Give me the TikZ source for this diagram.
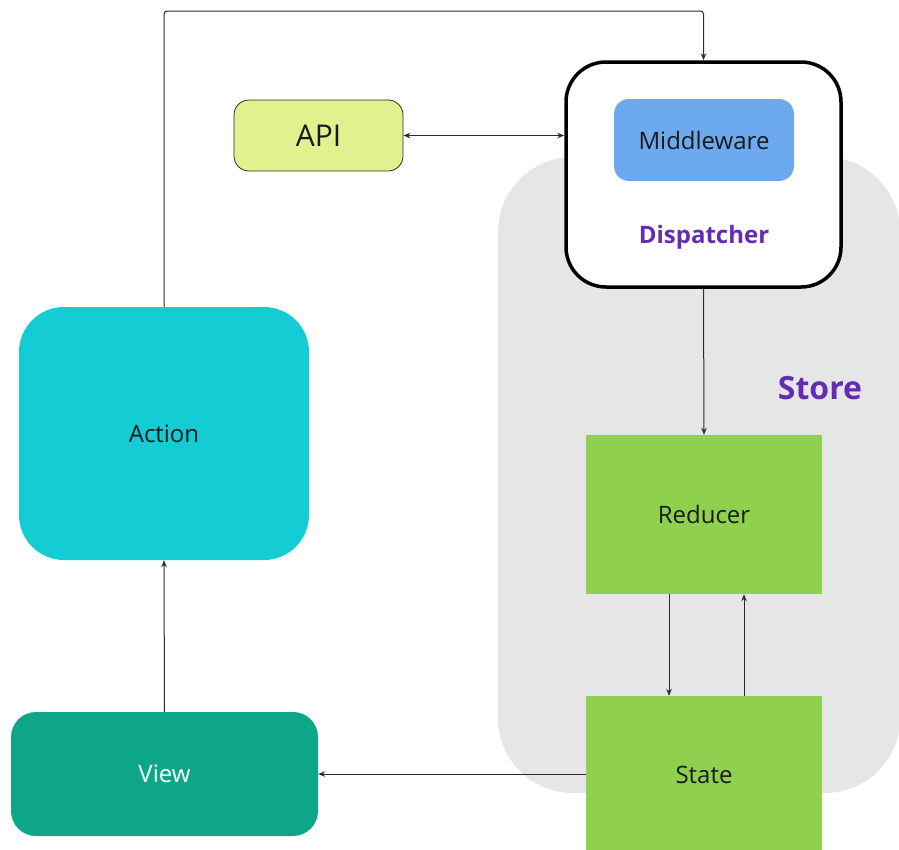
\documentclass[tikz,border=0pt]{standalone}
\usepackage{fontspec}
\setmainfont{Open Sans}
\usetikzlibrary{arrows.meta,calc}
\definecolor{storegray}{HTML}{E6E6E6}
\definecolor{purpletxt}{HTML}{652CB3}
\definecolor{mwblue}{HTML}{6DA9EE}
\definecolor{apiyellow}{HTML}{E2F08E}
\definecolor{actcyan}{HTML}{14CCD4}
\definecolor{viewteal}{HTML}{0EA688}
\definecolor{redgreen}{HTML}{8FD14F}
\definecolor{linegray}{HTML}{2B2B2B}
\definecolor{inktxt}{HTML}{1A1A1A}
\tikzset{
  box/.style={rectangle, inner sep=0pt, font=\fontsize{24}{28}\selectfont, text=inktxt},
  arr/.style={draw=linegray, line width=1pt, -{Stealth[length=7pt,width=5.5pt]}},
  biarr/.style={draw=linegray, line width=1pt, {Stealth[length=7pt,width=5.5pt]}-{Stealth[length=7pt,width=5.5pt]}},
}
\begin{document}
\begin{tikzpicture}[x=1pt,y=-1pt]
\useasboundingbox (0,0) rectangle (899,849);
\clip (0,0) rectangle (899,849);
\fill[white] (0,0) rectangle (899,849);

% Store container
\fill[storegray, rounded corners=75pt] (498,157) rectangle (900,793);
\node[font=\bfseries\fontsize{32}{36}\selectfont, text=purpletxt] (storelbl) at (820,388) {Store};

% Dispatcher with its middleware
\node[box, draw=black, line width=3.5pt, fill=white, rounded corners=40pt,
      minimum width=275pt, minimum height=225pt] (dispatcher) at (703.5,174.5) {};
\node[box, fill=mwblue, rounded corners=15pt, minimum width=180pt, minimum height=82pt]
      (middleware) at (704,140) {Middleware};
\node[font=\bfseries\fontsize{24}{28}\selectfont, text=purpletxt] (displbl) at (704,237) {Dispatcher};

% API
\node[box, draw=linegray, line width=0.8pt, fill=apiyellow, rounded corners=15pt,
      minimum width=169pt, minimum height=71pt, font=\fontsize{30}{34}\selectfont]
      (api) at (318.5,135.5) {API};

% Action and View
\node[box, fill=actcyan, rounded corners=45pt, minimum width=290pt, minimum height=253pt]
      (action) at (164,433.5) {Action};
\node[box, fill=viewteal, rounded corners=25pt, minimum width=307pt, minimum height=124pt, text=white]
      (view) at (164.5,774) {View};

% Reducer and State
\node[box, fill=redgreen, minimum width=236pt, minimum height=159pt] (reducer) at (704,514.5) {Reducer};
\node[box, fill=redgreen, minimum width=236pt, minimum height=157pt] (state) at (704,774.5) {State};

% Connectors
\coordinate (tl) at (action.north |- 0,11);
\coordinate (tr) at (dispatcher.north |- 0,11);
\draw[arr, rounded corners=3pt] (action.north) -- (tl) -- (tr) -- (dispatcher.north);
\draw[biarr] (api.east) -- (api.east -| dispatcher.west);
\draw[arr] (dispatcher.south) -- (reducer.north);
\draw[arr] ([xshift=-35pt]reducer.south) -- ([xshift=-35pt]reducer.south |- state.north);
\draw[arr] ([xshift=40pt]state.north) -- ([xshift=40pt]state.north |- reducer.south);
\draw[arr] (state.west |- view.east) -- (view.east);
\draw[arr] (view.north) -- (action.south);
\end{tikzpicture}
\end{document}
